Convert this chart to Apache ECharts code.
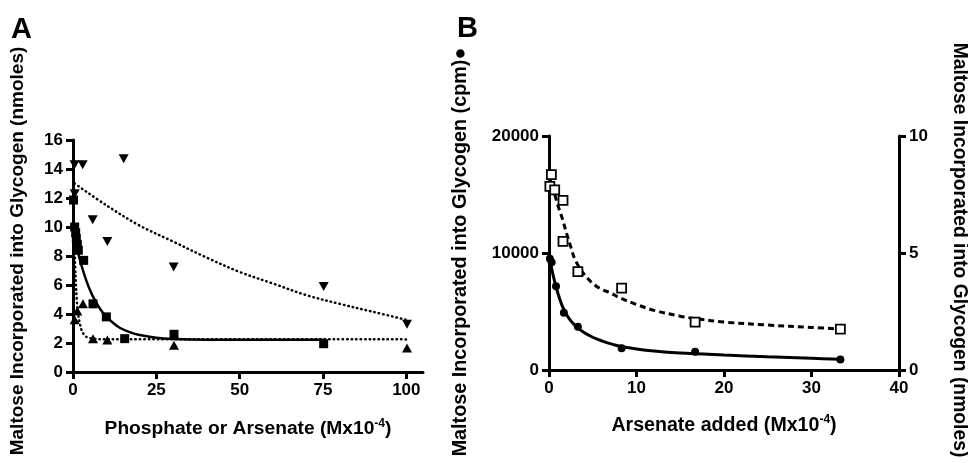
<!DOCTYPE html>
<html>
<head>
<meta charset="utf-8">
<script src="https://cdn.jsdelivr.net/npm/echarts@6/dist/echarts.min.js"></script>
<style>
html,body{margin:0;padding:0;background:#fff;}
#c{width:968px;height:463px;}
</style>
</head>
<body>
<div id="c"></div>
<script>
// ---------- Panel A data ----------
const aTicksX = [0, 25, 50, 75, 100];
const aDownPts = [[0.45,14.3],[2.9,14.3],[0.5,12.3],[5.9,10.5],[10.3,9.0],[15.2,14.7],[30.2,7.25],[75.2,5.9],[100.2,3.3]];
const aSquarePts = [[0.15,11.86],[0.5,10.0],[0.8,9.6],[1.0,9.2],[1.3,8.8],[1.6,8.4],[3.2,7.7],[6.0,4.7],[10.0,3.8],[15.5,2.3],[30.3,2.6],[75.2,1.95]];
const aUpPts = [[0.5,3.6],[1.3,4.2],[3.0,4.7],[6.0,2.3],[10.3,2.2],[30.3,1.85],[100.2,1.65]];
const aDownFit = [[0.5,13.0],[10,11.5],[20,10.1],[30,9.0],[40,7.9],[50,6.9],[60,6.1],[70,5.3],[80,4.7],[90,4.15],[100,3.6]];
const aSquareFit = [[0.15,9.8],[1,8.75],[2,7.8],[3,7.0],[4,6.3],[5,5.7],[6,5.2],[8,4.4],[10,3.8],[12,3.4],[14,3.05],[17,2.75],[20,2.55],[25,2.36],[30,2.28],[40,2.23],[75.2,2.22]];
const aUpFit = [[0.5,8.5],[0.75,6.6],[1.15,4.9],[1.6,3.9],[2.0,3.4],[2.75,2.8],[4,2.43],[6,2.3],[10,2.26],[100,2.25]];

// ---------- Panel B data ----------
const bCpmPts = [[0.1,9500],[0.3,9200],[0.8,7150],[1.7,4900],[3.3,3700],[8.3,1850],[16.7,1550],[33.3,900]];
const bNmolPts = [[0.1,7.85],[0.27,8.35],[0.65,7.7],[1.6,7.25],[1.6,5.5],[3.3,4.2],[8.3,3.5],[16.7,2.05],[33.3,1.75]];
const bCpmFit = [[0,9900],[0.5,8000],[1,6600],[1.5,5500],[2,4750],[2.5,4200],[3,3800],[4,3200],[5,2800],[6,2500],[8,2050],[10,1800],[12,1620],[15,1450],[20,1280],[25,1130],[30,1000],[33.3,920]];
const bNmolFit = [[0,8.3],[0.5,7.7],[1,7.05],[1.5,6.5],[2,5.85],[2.5,5.25],[3,4.7],[4,4.1],[5,3.7],[6,3.45],[7,3.3],[8,3.1],[10,2.8],[12,2.55],[15,2.3],[17,2.18],[20,2.05],[25,1.92],[30,1.82],[33.3,1.75]];

// ---------- Text ----------
const titleAX = 'Phosphate or Arsenate (Mx10{s|-4})';
const titleAY = 'Maltose Incorporated into Glycogen (nmoles)';
const titleBX = 'Arsenate added (Mx10{s|-4})';
const titleBYL = 'Maltose Incorporated into Glycogen (cpm)\u25CF';
const titleBYR = 'Maltose Incorporated into Glycogen (nmoles)';

const FF = '"Liberation Sans", Arial, Helvetica, "DejaVu Sans", sans-serif';
const black = '#000';

function nameStyle(size, padding) {
  return {
    color: black, fontSize: size, fontWeight: 'bold', fontFamily: FF, lineHeight: size + 3,
    padding: padding || 0,
    rich: { s: { fontSize: Math.round(size * 0.63), fontWeight: 'bold', fontFamily: FF, color: black, verticalAlign: 'top', lineHeight: 12 } }
  };
}

function tickStyle(custom) {
  const t = { show: true, inside: false, length: 7, lineStyle: { color: '#000000', width: 3 } };
  if (custom) t.customValues = custom;
  return t;
}

function axisCommon(extra) {
  return Object.assign({
    type: 'value',
    splitLine: { show: false },
    axisLine: { show: true, onZero: false, lineStyle: { color: black, width: 3 } },
    axisTick: tickStyle(),
    axisLabel: { show: true, color: black, fontSize: 17, fontWeight: 'bold', fontFamily: FF, margin: 10, formatter: v => String(v) },
    nameLocation: 'middle',
    nameMoveOverlap: false
  }, extra);
}

const chart = echarts.init(document.getElementById('c'), null, { renderer: 'canvas' });

const dotted = { color: black, width: 2.5, type: [0.5, 4], cap: 'round' };

chart.setOption({
  animation: false,
  backgroundColor: '#fff',
  grid: [
    { left: 73, top: 140, width: 350, height: 232, outerBoundsMode: 'none', containLabel: false },
    { left: 549, top: 136, width: 350, height: 234, outerBoundsMode: 'none', containLabel: false }
  ],
  xAxis: [
    axisCommon({
      gridIndex: 0, min: 0, max: 105,
      axisTick: tickStyle(aTicksX),
      axisLabel: { show: true, color: black, fontSize: 17, fontWeight: 'bold', fontFamily: FF, margin: 10, customValues: aTicksX, formatter: v => String(v) },
      name: titleAX, nameGap: 46, nameTextStyle: nameStyle(19.2)
    }),
    axisCommon({
      gridIndex: 1, min: 0, max: 40, interval: 10,
      name: titleBX, nameGap: 44, nameTextStyle: nameStyle(19.6)
    })
  ],
  yAxis: [
    axisCommon({
      gridIndex: 0, min: 0, max: 16, interval: 2,
      name: titleAY, nameGap: 44, nameRotate: 90, nameTextStyle: nameStyle(19, [0, 0, 0, 10])
    }),
    axisCommon({
      gridIndex: 1, min: 0, max: 20000, interval: 10000, position: 'left',
      name: titleBYL, nameGap: 77, nameRotate: 90, nameTextStyle: nameStyle(19.8, [0, 0, 0, 2])
    }),
    axisCommon({
      gridIndex: 1, min: 0, max: 10, interval: 5, position: 'right',
      name: titleBYR, nameGap: 49, nameRotate: -90, nameTextStyle: nameStyle(19.3, [0, 6, 0, 0])
    })
  ],
  graphic: [
    { type: 'text', left: 11, top: 15, style: { text: 'A', font: 'bold 29px ' + FF, fill: black } },
    { type: 'text', left: 457, top: 14, style: { text: 'B', font: 'bold 29px ' + FF, fill: black } }
  ],
  series: [
    { type: 'line', xAxisIndex: 0, yAxisIndex: 0, data: aDownFit, showSymbol: false, smooth: 0.35, lineStyle: dotted, z: 2 },
    { type: 'line', xAxisIndex: 0, yAxisIndex: 0, data: aUpFit, showSymbol: false, smooth: 0.35, lineStyle: dotted, z: 2 },
    { type: 'line', xAxisIndex: 0, yAxisIndex: 0, data: aSquareFit, showSymbol: false, smooth: 0.35, lineStyle: { color: black, width: 2.5 }, z: 2 },
    { type: 'scatter', xAxisIndex: 0, yAxisIndex: 0, data: aDownPts, symbol: 'triangle', symbolRotate: 180, symbolSize: [10, 9], itemStyle: { color: black, opacity: 1 }, z: 3 },
    { type: 'scatter', xAxisIndex: 0, yAxisIndex: 0, data: aSquarePts, symbol: 'rect', symbolSize: 9, itemStyle: { color: black, opacity: 1 }, z: 3 },
    { type: 'scatter', xAxisIndex: 0, yAxisIndex: 0, data: aUpPts, symbol: 'triangle', symbolSize: [10, 9], itemStyle: { color: black, opacity: 1 }, z: 3 },

    { type: 'line', xAxisIndex: 1, yAxisIndex: 1, data: bCpmFit, showSymbol: false, smooth: 0.35, lineStyle: { color: black, width: 3 }, z: 2 },
    { type: 'line', xAxisIndex: 1, yAxisIndex: 2, data: bNmolFit, showSymbol: false, smooth: 0.35, lineStyle: { color: black, width: 3, type: [6, 4] }, z: 2 },
    { type: 'scatter', xAxisIndex: 1, yAxisIndex: 1, data: bCpmPts, symbol: 'circle', symbolSize: 8, itemStyle: { color: black, opacity: 1 }, z: 3 },
    { type: 'scatter', xAxisIndex: 1, yAxisIndex: 2, data: bNmolPts, symbol: 'rect', symbolSize: 9, itemStyle: { color: '#fff', borderColor: black, borderWidth: 1.8, opacity: 1 }, z: 3 }
  ]
});
</script>
</body>
</html>
